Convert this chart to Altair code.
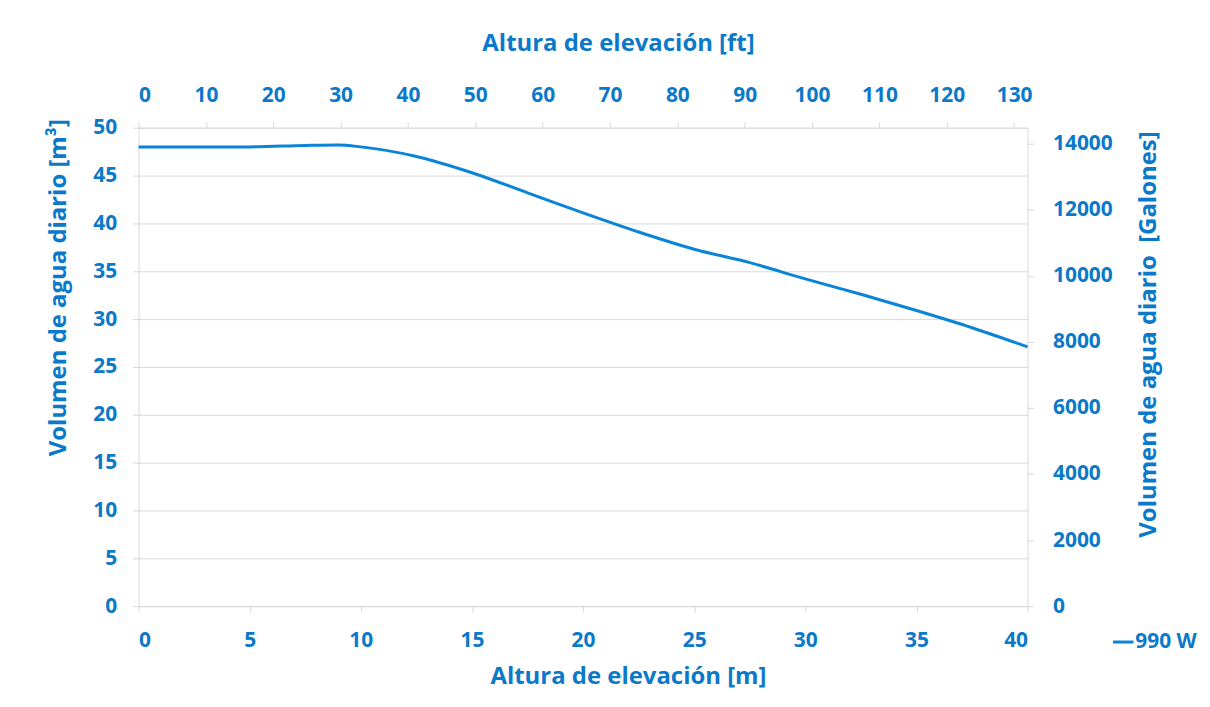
import altair as alt
import pandas as pd

# Data
altura_m = [0, 2.5, 5, 7.5, 9, 10, 12.5, 15, 17.5, 20, 22.5, 25, 27.5, 30, 32.5, 35, 37.5, 40]
volumen_m3 = [48.0, 48.0, 48.0, 48.15, 48.2, 48.0, 47.0, 45.3, 43.2, 41.1, 39.1, 37.3, 35.9, 34.2, 32.6, 30.9, 29.1, 27.1]
serie = ["990 W"] * len(altura_m)

ticks_m = [0, 5, 10, 15, 20, 25, 30, 35, 40]
ticks_ft = [0, 10, 20, 30, 40, 50, 60, 70, 80, 90, 100, 110, 120, 130]
ticks_m3 = [0, 5, 10, 15, 20, 25, 30, 35, 40, 45, 50]
ticks_gal = [0, 2000, 4000, 6000, 8000, 10000, 12000, 14000]

M_TO_FT = 3.28084
M3_TO_GAL = 264.172

df = pd.DataFrame({"m": altura_m, "v": volumen_m3, "serie": serie})
df["ft"] = df["m"] * M_TO_FT
df["gal"] = df["v"] * M3_TO_GAL

BLUE = "#0b79c9"
LINE = "#0a84d6"
GRID = "#d9d9d9"
FONT = "Open Sans"
LBL = 21
TTL = 24

def ax(**kw):
    base = dict(
        labelFont=FONT, labelFontSize=LBL, labelFontWeight="bold", labelColor=BLUE,
        titleFont=FONT, titleFontSize=TTL, titleFontWeight="bold", titleColor=BLUE,
        domainColor=GRID, tickColor=GRID, tickSize=6, grid=False,
    )
    base.update(kw)
    return alt.Axis(**base)

base = alt.Chart(df)

main = base.mark_line(interpolate="monotone", strokeWidth=3).encode(
    x=alt.X("m:Q", scale=alt.Scale(domain=[0, 40], nice=False),
            axis=ax(orient="bottom", values=ticks_m, title="Altura de elevación [m]",
                    labelPadding=17, titlePadding=15, titleX=491)),
    y=alt.Y("v:Q", scale=alt.Scale(domain=[0, 50], nice=False),
            axis=ax(orient="left", values=ticks_m3, title="Volumen de agua diario [m³]",
                    grid=True, gridColor=GRID, labelPadding=16, titlePadding=22, titleY=160)),
    color=alt.Color("serie:N", scale=alt.Scale(range=[LINE]),
                    legend=alt.Legend(orient="none", legendX=976, legendY=504, title=None,
                                      symbolType="stroke", symbolStrokeWidth=3, symbolSize=420,
                                      labelFont=FONT, labelFontSize=LBL, labelFontWeight="bold",
                                      labelColor=BLUE, labelOffset=0, padding=0)),
)

ghost = base.mark_line(opacity=0).encode(
    x=alt.X("ft:Q", scale=alt.Scale(domain=[0, 132], nice=False),
            axis=ax(orient="top", values=ticks_ft, title="Altura de elevación [ft]",
                    labelPadding=16, titlePadding=30, titleX=481)),
    y=alt.Y("gal:Q", scale=alt.Scale(domain=[0, 14483], nice=False),
            axis=ax(orient="right", values=ticks_gal, format="d",
                    title="Volumen de agua diario\u00a0 [Galones]",
                    titleAngle=270, labelPadding=19, titlePadding=48, titleY=207)),
)

chart = (
    alt.layer(main, ghost)
    .resolve_scale(x="independent", y="independent", color="independent")
    .properties(width=892, height=480, padding={"left": 38, "top": 22, "right": 5, "bottom": 5})
    .configure_view(stroke=None)
)

chart.save("out.html", embed_options={"renderer": "svg", "actions": False})
